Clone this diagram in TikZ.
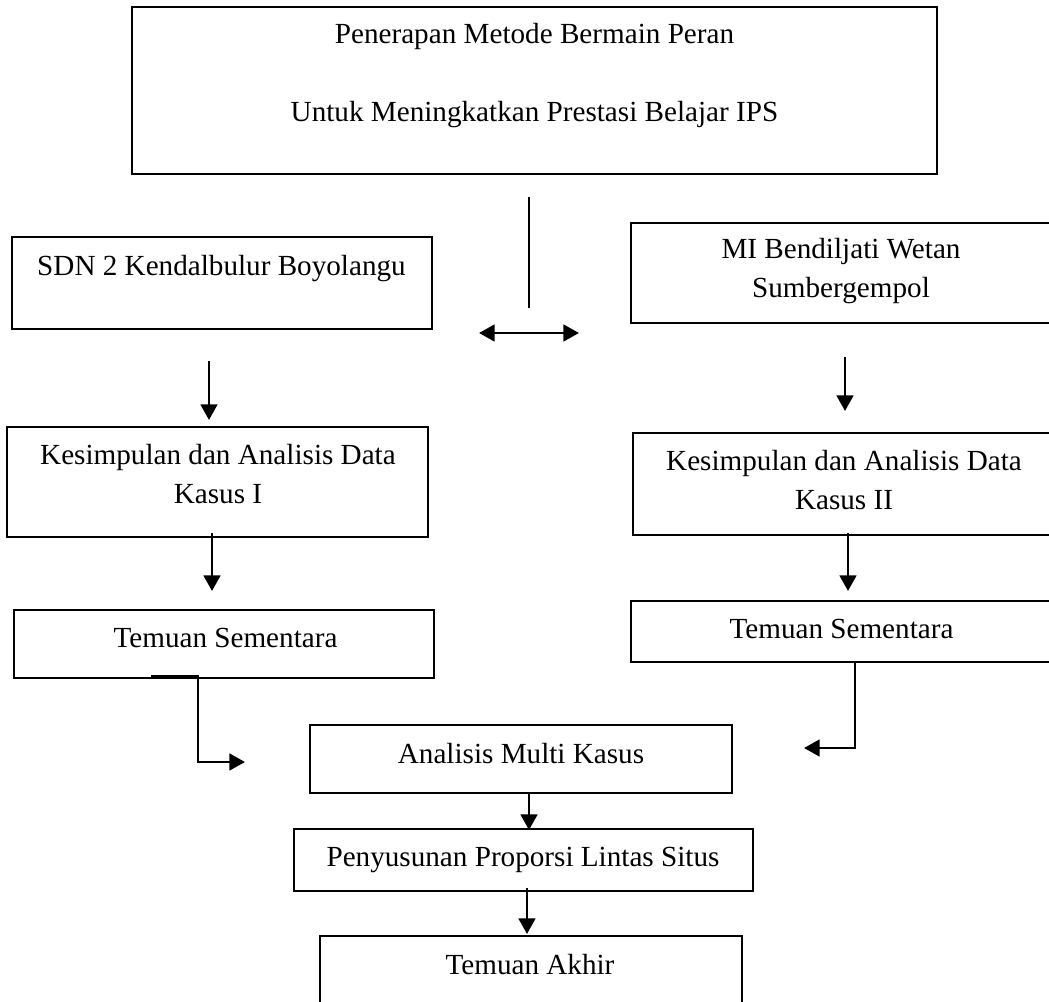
\documentclass[tikz,border=0pt]{standalone}
\usepackage{fontspec}
\setmainfont{Liberation Serif}
\usetikzlibrary{calc,positioning,fit,arrows.meta}

\tikzset{
  kotak/.style={draw, line width=0.8pt, inner sep=0pt},
  teks/.style={anchor=base, inner sep=0pt, font=\fontsize{12pt}{15.5pt}\selectfont},
  panah/.style={line width=1.15pt, -{Triangle[length=6.4pt,width=6.8pt]}},
  panahdua/.style={line width=1.15pt, {Triangle[length=6.4pt,width=6.8pt]}-{Triangle[length=6.4pt,width=6.8pt]}},
}

\begin{document}
\begin{tikzpicture}[x=0.4115pt, y=-0.4115pt]
    \useasboundingbox (0,0) rectangle (1049,1002);
    \clip (0,0) rectangle (1049,1002);

    % kotak
    \node[kotak, fit={(132,7) (937,174)}] (judul) {};
    \node[kotak, fit={(12,237) (432,329)}] (sdn) {};
    \node[kotak, fit={(631,223) (1052,323)}] (mi) {};
    \node[kotak, fit={(7,427) (428,537)}] (kasus1) {};
    \node[kotak, fit={(633,433) (1055,535)}] (kasus2) {};
    \node[kotak, fit={(14,610) (434,678)}] (temuan1) {};
    \node[kotak, fit={(631,601) (1052,662)}] (temuan2) {};
    \node[kotak, fit={(310,725) (732,793)}] (multi) {};
    \node[kotak, fit={(294,829) (753,891)}] (susun) {};
    \node[kotak, fit={(320,936) (742,1010)}] (akhir) {};

    % teks
    \node[teks] (judulA) at (534.5,44) {Penerapan Metode Bermain Peran};
    \node[teks] (judulB) at (534.5,121.5) {Untuk Meningkatkan Prestasi Belajar IPS};
    \node[teks] (sdnA) at (221.5,276) {SDN 2 Kendalbulur Boyolangu};
    \node[teks] (miA) at (841,259) {MI Bendiljati Wetan};
    \node[teks] (miB) at (841,297.5) {Sumbergempol};
    \node[teks] (kasus1A) at (218,464.5) {Kesimpulan dan Analisis Data};
    \node[teks] (kasus1B) at (218,503) {Kasus I};
    \node[teks] (kasus2A) at (844,470.5) {Kesimpulan dan Analisis Data};
    \node[teks] (kasus2B) at (844,509) {Kasus II};
    \node[teks] (temuan1A) at (225.5,647) {Temuan Sementara};
    \node[teks] (temuan2A) at (841.5,638) {Temuan Sementara};
    \node[teks] (multiA) at (521,763) {Analisis Multi Kasus};
    \node[teks] (susunA) at (523,866) {Penyusunan Proporsi Lintas Situs};
    \node[teks] (akhirA) at (530,974) {Temuan Akhir};

    % ujung panah
    \coordinate (g1) at (529,197);  \coordinate (g2) at (529,308);
    \coordinate (d1) at (479,333);  \coordinate (d2) at (579,333);
    \coordinate (a1) at (209,361);  \coordinate (a2) at (209,420);
    \coordinate (a3) at (212,533);  \coordinate (a4) at (212,591);
    \coordinate (b1) at (845,357);  \coordinate (b2) at (845,411);
    \coordinate (b3) at (848,533);  \coordinate (b4) at (848,591);
    \coordinate (c1) at (529,793);  \coordinate (c2) at (529,830);
    \coordinate (c3) at (527,888);  \coordinate (c4) at (527,934);
    \coordinate (k1) at (151,676);  \coordinate (k2) at (198,676);  \coordinate (k3) at (245,762);
    \coordinate (n1) at (907,662);  \coordinate (n2) at (855,662);  \coordinate (n3) at (804,748);

    % panah
    \draw[line width=0.7pt] (g1) -- (g2);
    \draw[panahdua] (d1) -- (d2);
    \draw[panah] (a1) -- (a2);
    \draw[panah] (a3) -- (a4);
    \draw[panah] (b1) -- (b2);
    \draw[panah] (b3) -- (b4);
    \draw[panah] (c1) -- (c2);
    \draw[panah] (c3) -- (c4);
    \draw[panah] (k1) -- (k2) |- (k3);
    \draw[panah] (n1) -- (n2) |- (n3);
\end{tikzpicture}
\end{document}
